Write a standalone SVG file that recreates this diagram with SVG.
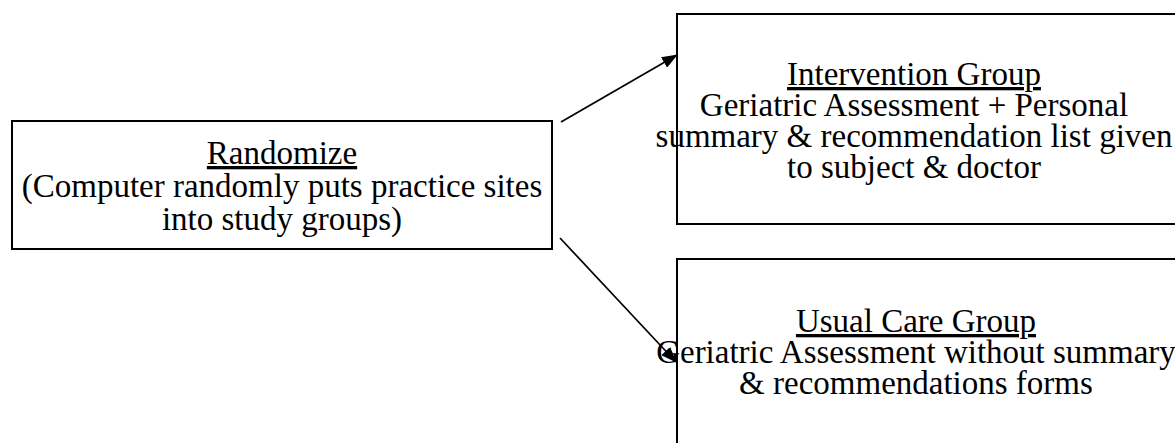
<svg xmlns="http://www.w3.org/2000/svg" width="1175" height="443" viewBox="0 0 1175 443">
<style>
.box{fill:none;stroke:#000;stroke-width:2}
.t{font-family:"Liberation Serif","Times New Roman",serif;font-size:33px;fill:#000;text-anchor:middle}
.u{text-decoration:underline}
.c{stroke:#000;stroke-width:1.7;fill:none}
</style>
<defs>
<marker id="ah" viewBox="0 0 16 12" markerWidth="16" markerHeight="12" refX="15" refY="6" orient="auto" markerUnits="userSpaceOnUse">
<path d="M0,0 L16,6 L0,12 Z" fill="#000"/>
</marker>
</defs>
<rect width="1175" height="443" fill="#fff"/>
<g id="randomize">
<rect class="box" x="12" y="121" width="540" height="128"/>
<text class="t"><tspan class="u" x="282" y="164">Randomize</tspan><tspan x="282" y="197">(Computer randomly puts practice sites</tspan><tspan x="282" y="230">into study groups)</tspan></text>
</g>
<g id="intervention">
<rect class="box" x="677" y="14" width="520" height="210"/>
<text class="t"><tspan class="u" x="914" y="85">Intervention Group</tspan><tspan x="914" y="116">Geriatric Assessment + Personal</tspan><tspan x="914" y="147">summary &amp; recommendation list given</tspan><tspan x="914" y="178">to subject &amp; doctor</tspan></text>
</g>
<g id="usual">
<rect class="box" x="677" y="259" width="520" height="200"/>
<text class="t"><tspan class="u" x="916" y="332">Usual Care Group</tspan><tspan x="916" y="363">Geriatric Assessment without summary</tspan><tspan x="916" y="394">&amp; recommendations forms</tspan></text>
</g>
<g id="connectors">
<line class="c" x1="561" y1="122" x2="677" y2="55" marker-end="url(#ah)"/>
<line class="c" x1="560" y1="238" x2="676" y2="362" marker-end="url(#ah)"/>
</g>
</svg>
